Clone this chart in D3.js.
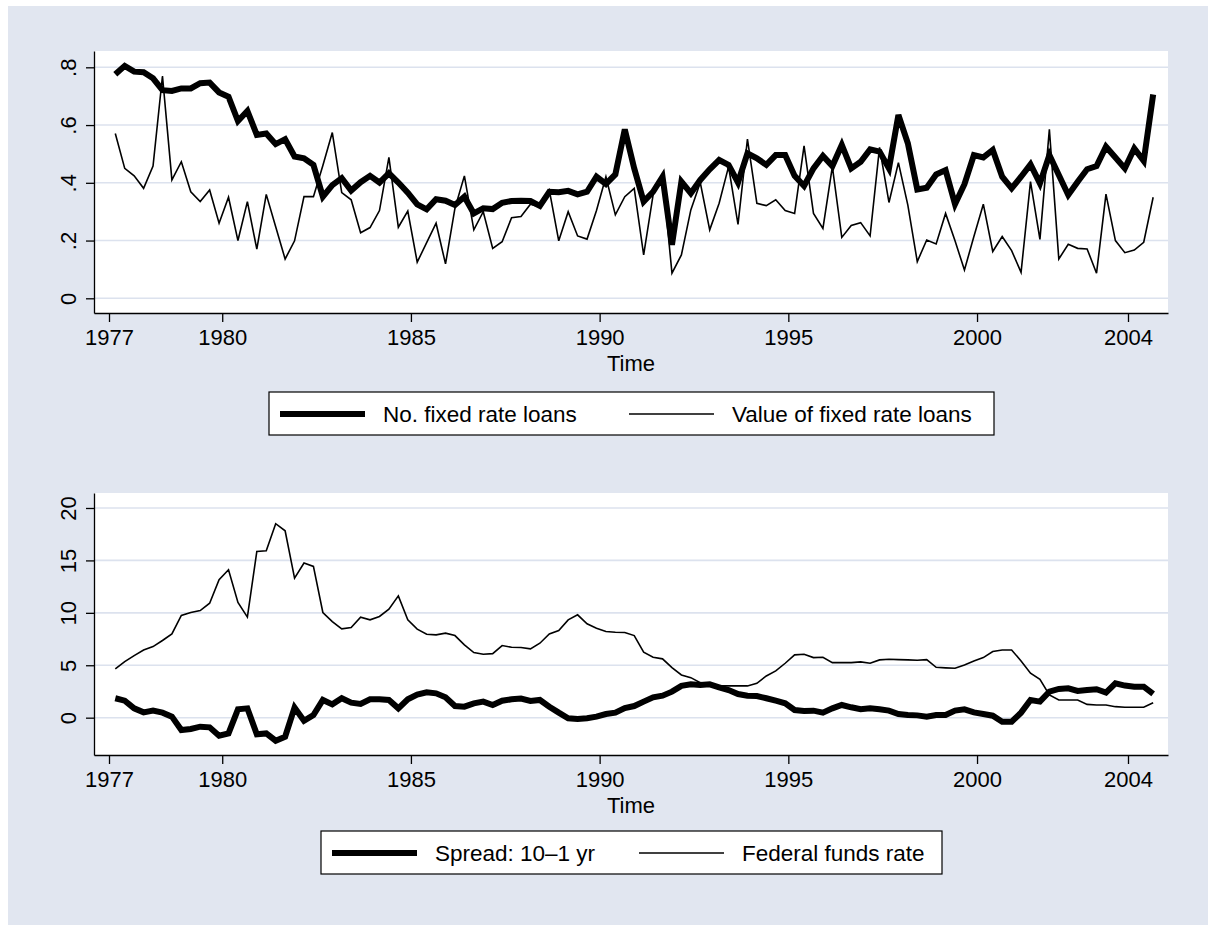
<!DOCTYPE html>
<html>
<head>
<meta charset="utf-8">
<script src="https://cdn.jsdelivr.net/npm/d3@7"></script>
<style>
  body { margin: 0; background: white; }
  text { font-family: "Liberation Sans", Arial, Helvetica, sans-serif; fill: black; }
</style>
</head>
<body>
<script>

// quarterly observations, 1977q1 .. 2004q3 (plotted at mid quarter)
var startYear = 1977,
    nObs = 111;

var noFixedLoans = [
  .776, .805, .785, .783, .762, .721, .718, .727, .727, .745, .747, .713, .698, .614, .649, .566,
  .571, .534, .551, .491, .485, .462, .352, .392, .416, .373, .402, .424, .401, .433, .401, .366,
  .325, .308, .343, .338, .323, .352, .294, .312, .309, .331, .337, .338, .337, .320, .369, .367,
  .372, .360, .369, .421, .396, .429, .585, .450, .335, .369, .421, .185, .404, .364, .410, .447,
  .479, .462, .401, .502, .485, .462, .496, .496, .424, .389, .450, .493, .458, .531, .450, .473,
  .516, .508, .450, .635, .537, .377, .383, .429, .444, .326, .395, .496, .488, .514, .421, .381,
  .421, .464, .398, .496, .427, .358, .404, .447, .458, .525, .488, .450, .519, .476, .706
];

var valueFixedLoans = [
  .571, .450, .424, .381, .458, .770, .410, .473, .369, .335, .375, .260, .350, .200, .335, .170,
  .360, .248, .136, .199, .352, .352, .460, .574, .366, .341, .227, .245, .304, .488, .246, .302,
  .125, .193, .260, .119, .312, .424, .237, .300, .173, .196, .279, .283, .326, .317, .375, .199,
  .300, .216, .205, .304, .421, .289, .352, .381, .150, .358, .427, .087, .150, .306, .401, .237,
  .329, .456, .256, .551, .329, .321, .341, .304, .294, .528, .294, .242, .456, .211, .252, .262,
  .216, .523, .332, .470, .323, .127, .202, .188, .294, .199, .098, .214, .326, .162, .214, .165,
  .090, .404, .204, .585, .136, .187, .173, .171, .087, .361, .200, .158, .167, .194, .350
];

var spread = [
  1.85, 1.62, 0.89, 0.51, 0.67, 0.48, 0.10, -1.18, -1.08, -0.86, -0.92, -1.72, -1.50, 0.80, 0.89, -1.59,
  -1.50, -2.20, -1.82, 0.96, -0.29, 0.25, 1.69, 1.27, 1.85, 1.43, 1.31, 1.75, 1.75, 1.69, 0.89, 1.75,
  2.20, 2.42, 2.32, 1.94, 1.11, 1.05, 1.37, 1.53, 1.21, 1.62, 1.75, 1.82, 1.59, 1.69, 1.05, 0.48,
  -0.06, -0.13, -0.06, 0.10, 0.35, 0.48, 0.92, 1.11, 1.53, 1.94, 2.10, 2.48, 3.03, 3.18, 3.12, 3.18,
  2.90, 2.64, 2.26, 2.10, 2.07, 1.85, 1.62, 1.37, 0.73, 0.64, 0.67, 0.48, 0.89, 1.21, 0.99, 0.80,
  0.89, 0.80, 0.67, 0.35, 0.25, 0.22, 0.10, 0.25, 0.25, 0.67, 0.80, 0.51, 0.35, 0.19, -0.38, -0.38,
  0.48, 1.69, 1.53, 2.48, 2.74, 2.80, 2.55, 2.64, 2.71, 2.39, 3.28, 3.06, 2.96, 2.96, 2.26
];

var fedFunds = [
  4.65, 5.35, 5.92, 6.46, 6.78, 7.36, 7.99, 9.75, 10.03, 10.22, 10.92, 13.15, 14.11, 10.99, 9.59, 15.86,
  15.92, 18.50, 17.83, 13.31, 14.75, 14.43, 10.03, 9.17, 8.47, 8.60, 9.59, 9.33, 9.65, 10.35, 11.62, 9.33,
  8.45, 7.96, 7.90, 8.06, 7.83, 6.94, 6.21, 6.05, 6.11, 6.88, 6.72, 6.69, 6.56, 7.10, 7.99, 8.31,
  9.33, 9.81, 8.95, 8.54, 8.22, 8.15, 8.12, 7.83, 6.24, 5.76, 5.61, 4.78, 4.08, 3.82, 3.34, 3.18,
  3.03, 3.03, 3.03, 3.03, 3.28, 3.98, 4.46, 5.19, 5.99, 6.05, 5.73, 5.76, 5.25, 5.25, 5.25, 5.32,
  5.19, 5.51, 5.57, 5.54, 5.51, 5.48, 5.54, 4.81, 4.75, 4.71, 5.03, 5.41, 5.73, 6.31, 6.46, 6.46,
  5.41, 4.24, 3.66, 2.17, 1.69, 1.69, 1.69, 1.27, 1.21, 1.21, 1.05, 0.99, 0.99, 0.99, 1.43
];

var xTicks = [1977, 1980, 1985, 1990, 1995, 2000, 2004];
var yTicksTop = [0, .2, .4, .6, .8];
var yTicksBottom = [0, 5, 10, 15, 20];
var xTitle = 'Time';
var legendTop = ['No. fixed rate loans', 'Value of fixed rate loans'];
var legendBottom = ['Spread: 10\u20131 yr', 'Federal funds rate'];

var times = d3.range(nObs).map(i => startYear + 2/12 + i * 0.25);

var svgWidth = 1208,
    svgHeight = 925;

var svg = d3.select('body').append('svg')
  .attr('width', svgWidth)
  .attr('height', svgHeight)

svg.append('rect')
  .attr('x', 8).attr('y', 6)
  .attr('width', svgWidth - 8).attr('height', svgHeight - 6)
  .attr('fill', '#e1e6f0')

var plotLeft = 94, plotRight = 1168;

var xScale = d3.scaleLinear()
  .domain([1976.6025, 2005.06])
  .range([plotLeft, plotRight])

function drawPanel(opt) {
  var g = svg.append('g')

  var yScale = d3.scaleLinear().domain(opt.yDomain).range([opt.bottom, opt.top])

  g.append('rect')
    .attr('x', plotLeft)
    .attr('y', opt.top)
    .attr('width', plotRight - plotLeft)
    .attr('height', opt.bottom - opt.top)
    .attr('fill', 'white')

  g.selectAll('.grid').data(opt.yTicks).enter()
    .append('line')
    .attr('class', 'grid')
    .attr('x1', plotLeft)
    .attr('x2', plotRight)
    .attr('y1', d => yScale(d))
    .attr('y2', d => yScale(d))
    .attr('stroke', '#dce2ee')
    .attr('stroke-width', 1.6)

  var line = d3.line()
    .x((d, i) => xScale(times[i]))
    .y(d => yScale(d))

  g.append('path')
    .datum(opt.thin)
    .attr('d', line)
    .attr('fill', 'none')
    .attr('stroke', 'black')
    .attr('stroke-width', 1.6)

  g.append('path')
    .datum(opt.thick)
    .attr('d', line)
    .attr('fill', 'none')
    .attr('stroke', 'black')
    .attr('stroke-width', 6)

  var yAxis = d3.axisLeft(yScale)
    .tickValues(opt.yTicks)
    .tickFormat(opt.yFormat)
    .tickSize(8)
    .tickSizeOuter(0)

  var ya = g.append('g')
    .attr('transform', `translate(${plotLeft},0)`)
    .call(yAxis)
  ya.select('.domain').attr('stroke-width', 1.3)
  ya.selectAll('.tick line').attr('stroke-width', 1.3)
  ya.selectAll('.tick text')
    .attr('x', null)
    .attr('dy', null)
    .attr('text-anchor', 'middle')
    .attr('transform', 'translate(-18,0) rotate(-90)')
    .style('font-size', '22px')
    .style('font-family', null)

  var xAxis = d3.axisBottom(xScale)
    .tickValues(xTicks)
    .tickFormat(d3.format('d'))
    .tickSize(9)
    .tickPadding(7)
    .tickSizeOuter(0)

  var xa = g.append('g')
    .attr('transform', `translate(0,${opt.bottom})`)
    .call(xAxis)
  xa.select('.domain').attr('stroke-width', 1.3)
  xa.selectAll('.tick line').attr('stroke-width', 1.3)
  xa.selectAll('.tick text')
    .style('font-size', '22px')
    .style('font-family', null)

  g.append('text')
    .attr('x', (plotLeft + plotRight) / 2)
    .attr('y', opt.bottom + 58)
    .attr('text-anchor', 'middle')
    .style('font-size', '22px')
    .text(xTitle)

  // legend
  var lg = opt.legend
  g.append('rect')
    .attr('x', lg.x).attr('y', lg.y)
    .attr('width', lg.w).attr('height', 43)
    .attr('fill', 'white')
    .attr('stroke', 'black')
    .attr('stroke-width', 1.2)

  var keys = [
    {label: opt.labels[0], width: 6, x: lg.x + 11},
    {label: opt.labels[1], width: 1.6, x: lg.key2}
  ]
  keys.forEach(function(k) {
    g.append('line')
      .attr('x1', k.x).attr('x2', k.x + 85)
      .attr('y1', lg.y + 22).attr('y2', lg.y + 22)
      .attr('stroke', 'black')
      .attr('stroke-width', k.width)
    g.append('text')
      .attr('x', k.x + 103)
      .attr('y', lg.y + 30)
      .style('font-size', '22.5px')
      .text(k.label)
  })
}

drawPanel({
  top: 51, bottom: 313,
  yDomain: [-0.0509, 0.8565],
  yTicks: yTicksTop,
  yFormat: d => d === 0 ? '0' : d3.format('.1f')(d).replace(/^0/, ''),
  thick: noFixedLoans,
  thin: valueFixedLoans,
  labels: legendTop,
  legend: {x: 269, y: 392, w: 725, key2: 629}
})

drawPanel({
  top: 493, bottom: 755,
  yDomain: [-3.56, 21.43],
  yTicks: yTicksBottom,
  yFormat: d3.format('d'),
  thick: spread,
  thin: fedFunds,
  labels: legendBottom,
  legend: {x: 321, y: 831, w: 621, key2: 639}
})

</script>
</body>
</html>
